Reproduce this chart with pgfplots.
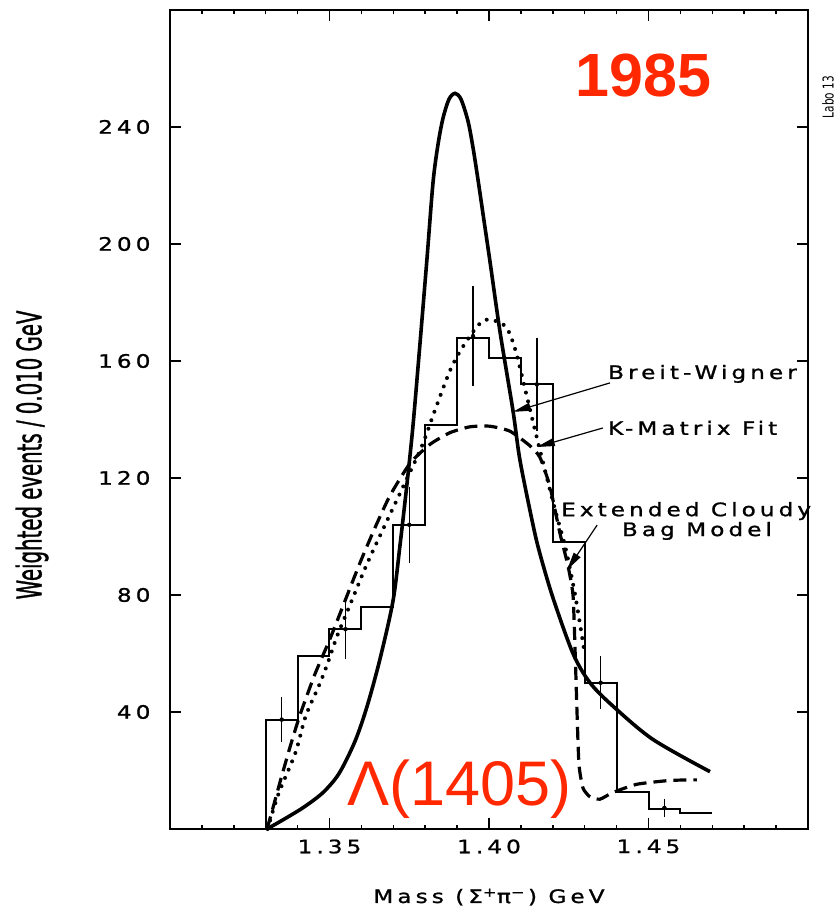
\documentclass[border=0pt]{standalone}
\usepackage{fontspec}
\usepackage{pgfplots}
\pgfplotsset{compat=1.18}
\usetikzlibrary{calc,arrows.meta}
\newfontfamily\plotfont[FakeStretch=1.25,LetterSpace=22,FakeBold=1.2]{DejaVu Sans}
\newfontfamily\condfont[FakeStretch=0.58,FakeBold=1]{DejaVu Sans}
\newfontfamily\labofont[FakeStretch=0.7]{DejaVu Sans}
\newfontfamily\helv{Liberation Sans}
\definecolor{hred}{RGB}{255,40,0}
\newcommand\pf{\plotfont\fontsize{18.5bp}{20bp}\selectfont}

\begin{document}
\begin{tikzpicture}
\begin{axis}[
  name=ax, at={(0,0)}, anchor=south west,
  scale only axis, width=638bp, height=819bp,
  xmin=1.30, xmax=1.50, ymin=0, ymax=280,
  clip=false,
  axis line style={line width=1.8bp},
  xtick={1.35,1.40,1.45}, xticklabels={1.35,1.40,1.45},
  minor xtick={1.31,1.32,1.33,1.34,1.36,1.37,1.38,1.39,1.41,1.42,1.43,1.44,1.46,1.47,1.48,1.49},
  ytick={40,80,120,160,200,240}, yticklabels={40,80,120,160,200,240},
  tick align=inside,
  major tick length=11bp, minor tick length=4bp,
  every tick/.style={black, line width=1.5bp},
  tick label style={font=\pf},
  yticklabel shift=16bp,
  xticklabel shift=7bp,
  xlabel={Mass (Σ\textsuperscript{+}π\textsuperscript{−}\,) GeV},
  xlabel style={at={(axis description cs:0.5,0)}, anchor=center, yshift=-68bp, font=\pf},
  ylabel={Weighted events / 0.010 GeV},
  ylabel style={at={(axis description cs:-0.2163,0.4567)}, anchor=center, font=\condfont\fontsize{34bp}{36bp}\selectfont},
]
% histogram, 0.010 GeV bins
\addplot[const plot, line width=2bp] coordinates {
  (1.33,0) (1.33,37.4) (1.34,59) (1.35,68.3) (1.36,76) (1.37,104) (1.38,138)
  (1.39,168) (1.40,161) (1.41,152) (1.42,98) (1.43,50) (1.44,12.7)
  (1.45,7) (1.46,5.5) (1.47,5.5)
};
% error bars on every second bin
\addplot[only marks, mark=none, error bars/.cd, y dir=both, y explicit,
  error mark=none, error bar style={line width=1.3bp, black}] coordinates {
  (1.335,37.4) +- (0,7.8)
  (1.355,68.3) +- (0,10.3)
  (1.375,104) +- (0,13)
  (1.395,168.5) +- (0,17)
  (1.415,152) +- (0,16)
  (1.435,50) +- (0,9)
  (1.455,7.2) +- (0,3.1)
};
% Breit-Wigner
\addplot[smooth, tension=0.5, line width=3.6bp] coordinates {
  (1.33041,0) (1.3360,3.5) (1.3420,7.5) (1.3480,12.5) (1.3530,19) (1.3580,30)
  (1.3618,42) (1.3658,58) (1.36991,78) (1.37210,97) (1.37429,118) (1.37618,138)
  (1.37837,166) (1.38056,195) (1.38245,221) (1.38401,234) (1.38558,243)
  (1.38746,249.5) (1.38934,251.5) (1.39122,249.5) (1.39342,242) (1.39498,233)
  (1.39655,222) (1.39843,208) (1.40031,194) (1.40345,170) (1.40752,143)
  (1.40972,126) (1.41379,104) (1.41599,94) (1.42006,79) (1.42633,60)
  (1.43166,50) (1.43887,42) (1.45141,30.6) (1.46928,19.6)
};
% K-Matrix fit
\addplot[smooth, tension=0.5, line width=4bp, line cap=round, dash pattern=on 0bp off 9bp] coordinates {
  (1.3306,0) (1.3340,12) (1.3393,26) (1.3425,38.5) (1.3467,49) (1.3492,56)
  (1.3524,66) (1.3562,76) (1.3615,90) (1.3670,103) (1.3735,118) (1.3790,131)
  (1.3830,143) (1.3883,158) (1.3937,168) (1.3987,174) (1.4050,172)
  (1.4082,164) (1.4114,150) (1.4145,136) (1.4177,122) (1.4210,108)
  (1.4240,96) (1.4270,80) (1.4300,60)
};
% Extended Cloudy Bag Model
\addplot[smooth, tension=0.35, line width=3.2bp, dash pattern=on 13bp off 7bp] coordinates {
  (1.33041,0) (1.33197,6) (1.33448,16) (1.33762,28) (1.34075,39) (1.34545,53)
  (1.35016,65) (1.35486,78) (1.35956,91) (1.36426,103) (1.36897,114)
  (1.37524,125) (1.38150,131.5) (1.38777,135.5) (1.39404,137.5) (1.40031,137.7)
  (1.40658,136) (1.41285,131) (1.41599,127) (1.41912,117) (1.42226,101)
  (1.42476,90) (1.42633,80) (1.42696,62) (1.42759,40) (1.42821,22)
  (1.42947,14) (1.43166,11) (1.43480,10.2) (1.43887,12.5) (1.44639,15.3)
  (1.45674,16.6) (1.46520,16.8)
};
% annotations
\draw[line width=1.2bp, -{Triangle[length=18bp,width=8bp]}] (axis cs:1.4379,152.5) -- (axis cs:1.4075,142.6);
\draw[line width=1.2bp, -{Triangle[length=18bp,width=8bp]}] (axis cs:1.4357,137.1) -- (axis cs:1.4150,130.6);
\draw[line width=1.2bp, -{Triangle[length=18bp,width=8bp]}] (axis cs:1.4339,103.9) -- (axis cs:1.4245,88.6);
\node[anchor=west, inner sep=0, font=\pf] at (axis cs:1.4373,155.6) {Breit-Wigner};
\node[anchor=west, inner sep=0, font=\pf] at (axis cs:1.4373,137.1) {K-Matrix Fit};
\node[inner sep=0, font=\pf] at (axis cs:1.4618,108.7) {Extended Cloudy};
\node[inner sep=0, font=\pf] at (axis cs:1.4652,101.9) {Bag Model};
\node[anchor=base west, inner sep=0, text=hred, font=\helv\bfseries\fontsize{61bp}{62bp}\selectfont] at (axis cs:1.4270,250.3) {1985};
\node[anchor=base west, inner sep=0, text=hred, font=\helv\fontsize{63bp}{64bp}\selectfont] at (axis cs:1.3555,8.2) {Λ(1405)};
\node[rotate=90, inner sep=0, font=\labofont\fontsize{15bp}{16bp}\selectfont] at (rel axis cs:1.0313,0.8938) {Labo 13};
\end{axis}
\pgfresetboundingbox
\path[use as bounding box] ($(ax.south west)+(-170bp,-81bp)$) rectangle ($(ax.north east)+(32bp,10bp)$);
\end{tikzpicture}
\end{document}
